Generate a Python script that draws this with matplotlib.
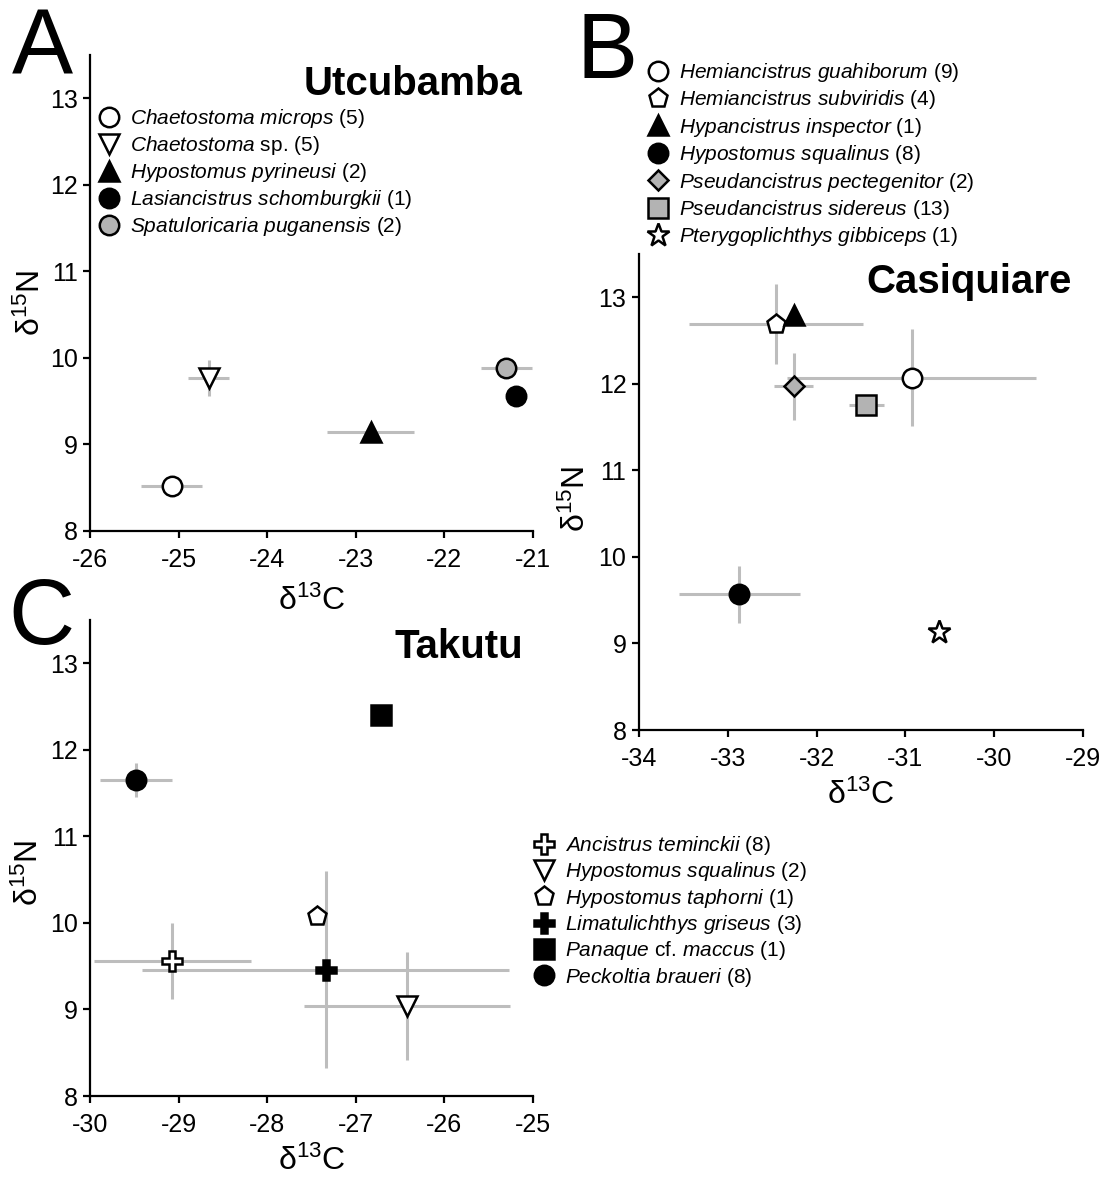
"""
Stable isotope biplots (d13C vs d15N) of loricariid catfishes
from three rivers: Utcubamba, Casiquiare and Takutu.
"""

import matplotlib
matplotlib.use("Agg")
import matplotlib.pyplot as plt
from matplotlib.lines import Line2D

plt.rcParams['font.family'] = ['Liberation Sans', 'DejaVu Sans']
plt.rcParams['mathtext.fontset'] = 'custom'
plt.rcParams['mathtext.rm'] = 'Liberation Sans'
plt.rcParams['mathtext.it'] = 'Liberation Sans:italic'
plt.rcParams['mathtext.bf'] = 'Liberation Sans:bold'
plt.rcParams['axes.unicode_minus'] = False

W, H = 1107, 1178
GREY = '#b3b3b3'
BAR = '#bdbdbd'

# Panel A - Utcubamba
a_names = ['Chaetostoma microps', 'Chaetostoma sp.', 'Hypostomus pyrineusi',
           'Lasiancistrus schomburgkii', 'Spatuloricaria puganensis']
a_n = [5, 5, 2, 1, 2]
a_x = [-25.08, -24.66, -22.83, -21.19, -21.30]
a_y = [8.52, 9.77, 9.14, 9.56, 9.88]
a_xerr = [0.34, 0.23, 0.49, 0.0, 0.29]
a_yerr = [0.0, 0.21, 0.0, 0.0, 0.0]
a_marker = ['o', 'v', '^', 'o', 'o']
a_face = ['white', 'white', 'black', 'black', GREY]
a_size = [14, 14, 15, 14, 14]

# Panel B - Casiquiare
b_names = ['Hemiancistrus guahiborum', 'Hemiancistrus subviridis',
           'Hypancistrus inspector', 'Hypostomus squalinus',
           'Pseudancistrus pectegenitor', 'Pseudancistrus sidereus',
           'Pterygoplichthys gibbiceps']
b_n = [9, 4, 1, 8, 2, 13, 1]
b_x = [-30.93, -32.46, -32.26, -32.87, -32.26, -31.44, -30.62]
b_y = [12.07, 12.69, 12.80, 9.57, 11.97, 11.76, 9.13]
b_xerr = [1.40, 0.98, 0.0, 0.68, 0.22, 0.20, 0.0]
b_yerr = [0.56, 0.46, 0.0, 0.33, 0.39, 0.0, 0.0]
b_marker = ['o', 'p', '^', 'o', 'D', 's', '*']
b_face = ['white', 'white', 'black', 'black', GREY, GREY, 'white']
b_size = [14, 14, 15, 14, 10, 14, 17]

# Panel C - Takutu
c_names = ['Ancistrus teminckii', 'Hypostomus squalinus', 'Hypostomus taphorni',
           'Limatulichthys griseus', 'Panaque cf. maccus', 'Peckoltia braueri']
c_n = [8, 2, 1, 3, 1, 8]
c_x = [-29.07, -26.42, -27.44, -27.34, -26.72, -29.48]
c_y = [9.56, 9.04, 10.08, 9.46, 12.40, 11.65]
c_xerr = [0.89, 1.16, 0.0, 2.07, 0.0, 0.41]
c_yerr = [0.44, 0.62, 0.0, 1.14, 0.0, 0.20]
c_marker = ['P', 'v', 'p', 'P', 's', 'o']
c_face = ['white', 'white', 'white', 'black', 'black', 'black']
c_size = [15, 15, 14, 15, 14, 14]


def make_label(name, n):
    """ Italic species name, plain 'sp.'/'cf.' and sample size. """
    parts = []
    for word in name.split():
        if word in ('sp.', 'cf.'):
            parts.append(word)
        else:
            parts.append(r'$\mathit{' + word + '}$')
    return ' '.join(parts) + f' ({n})'


def add_axes_px(fig, left, top, right, bottom):
    return fig.add_axes([left / W, 1 - bottom / H, (right - left) / W, (bottom - top) / H])


def draw_panel(fig, box, xs, ys, xerr, yerr, markers, faces, sizes,
               xlim, title, title_pos, xlabel_y, ylabel_pos):
    ax = add_axes_px(fig, *box)
    for x, y, dx, dy in zip(xs, ys, xerr, yerr):
        ax.errorbar(x, y, xerr=dx if dx else None, yerr=dy if dy else None,
                    fmt='none', ecolor=BAR, elinewidth=2.2, capsize=0, zorder=1)
    for x, y, m, f, s in zip(xs, ys, markers, faces, sizes):
        ax.plot(x, y, linestyle='none', marker=m, markersize=s,
                markerfacecolor=f, markeredgecolor='black',
                markeredgewidth=1.8, zorder=3)
    ax.set_xlim(*xlim)
    ax.set_ylim(8, 13.5)
    ax.set_xticks(range(xlim[0], xlim[1] + 1))
    ax.set_yticks(range(8, 14))
    for side in ['top', 'right']:
        ax.spines[side].set_visible(False)
    for side in ['left', 'bottom']:
        ax.spines[side].set_linewidth(1.6)
    ax.tick_params(direction='out', length=5, width=1.6, labelsize=18)
    ax.tick_params(axis='x', pad=7.5)
    ax.tick_params(axis='y', pad=4)
    ax.set_xlabel(r'δ$^{\mathregular{13}}$C', fontsize=23)
    ax.xaxis.set_label_coords(0.5, xlabel_y)
    ax.set_ylabel(r'δ$^{\mathregular{15}}$N', fontsize=23)
    ax.yaxis.set_label_coords(*ylabel_pos)
    ax.text(title_pos[0], title_pos[1], title, transform=ax.transAxes,
            ha='right', va='top', fontsize=29, fontweight='bold')
    return ax


def add_legend(fig, ax, names, counts, markers, faces, sizes, x_px, y_px, spacing):
    handles = [Line2D([], [], linestyle='none', marker=m, markersize=s,
                      markerfacecolor=f, markeredgecolor='black', markeredgewidth=1.8)
               for m, f, s in zip(markers, faces, sizes)]
    labels = [make_label(nm, n) for nm, n in zip(names, counts)]
    ax.legend(handles, labels, loc='upper left',
              bbox_to_anchor=(x_px / W, 1 - y_px / H), bbox_transform=fig.transFigure,
              frameon=False, fontsize=15, handlelength=1.0, handletextpad=0.5,
              labelspacing=spacing, borderpad=0, borderaxespad=0)


fig = plt.figure(figsize=(W / 100, H / 100), dpi=100)

ax_a = draw_panel(fig, (90, 55, 533, 531), a_x, a_y, a_xerr, a_yerr,
                  a_marker, a_face, a_size, (-26, -21), 'Utcubamba',
                  (0.977, 0.979), -0.115, (-0.097, 0.479))
add_legend(fig, ax_a, a_names, a_n, a_marker, a_face, a_size, 98.6, 107, 0.19)

ax_b = draw_panel(fig, (639, 254, 1083, 730), b_x, b_y, b_xerr, b_yerr,
                  b_marker, b_face, b_size, (-34, -29), 'Casiquiare',
                  (0.975, 0.981), -0.105, (-0.106, 0.485))
add_legend(fig, ax_b, b_names, b_n, b_marker, b_face, b_size, 647.6, 61, 0.21)

ax_c = draw_panel(fig, (90, 620, 533, 1096), c_x, c_y, c_xerr, c_yerr,
                  c_marker, c_face, c_size, (-30, -25), 'Takutu',
                  (0.977, 0.983), -0.105, (-0.102, 0.468))
add_legend(fig, ax_c, c_names, c_n, c_marker, c_face, c_size, 533.6, 834, 0.16)

# panel letters
for letter, x_px, base_px in [('A', 12, 75), ('B', 576, 78), ('C', 8, 644)]:
    fig.text(x_px / W, 1 - base_px / H, letter, fontsize=66,
             ha='left', va='baseline')

fig.savefig('out.png', dpi=100)
